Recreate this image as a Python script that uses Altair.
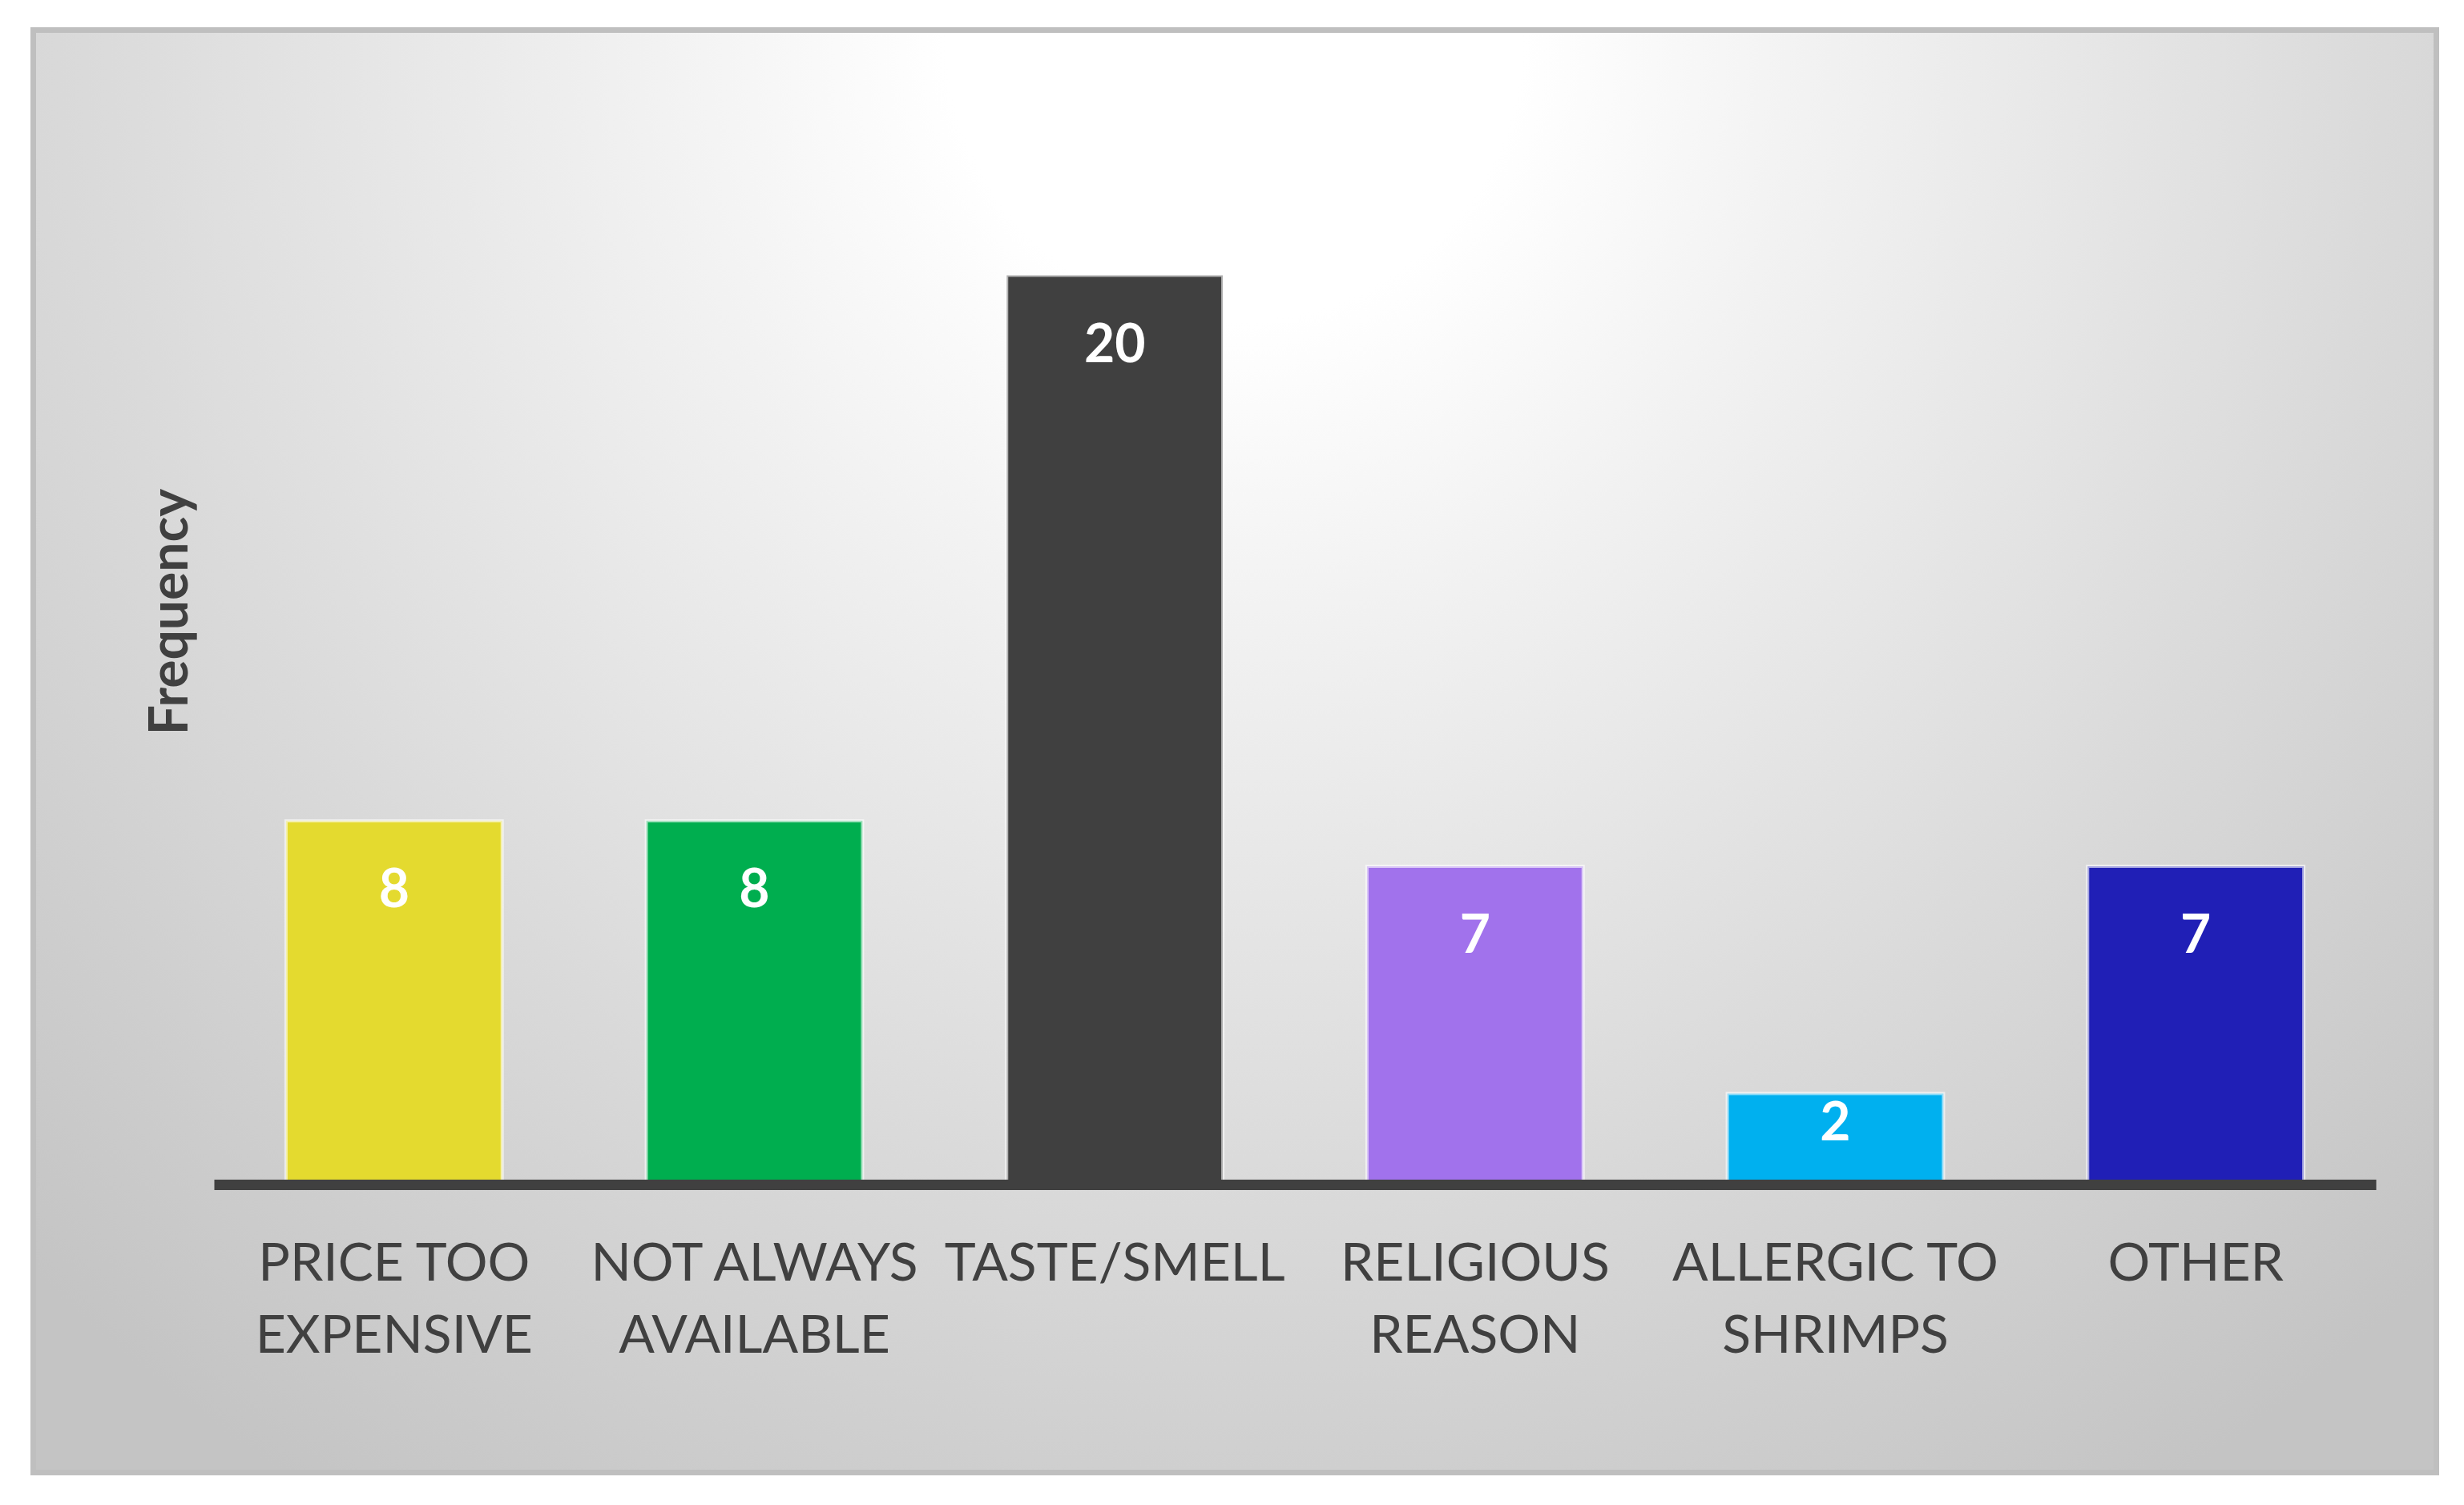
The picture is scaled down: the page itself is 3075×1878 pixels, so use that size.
import altair as alt
import pandas as pd

# ---- data ----
categories = ["PRICE TOO EXPENSIVE", "NOT ALWAYS AVAILABLE", "TASTE/SMELL",
              "RELIGIOUS REASON", "ALLERGIC TO SHRIMPS", "OTHER"]
frequencies = [8, 8, 20, 7, 2, 7]
bar_colors = ["#E4DA2F", "#00AE4F", "#404040", "#A172EC", "#00B0EF", "#201FB6"]
y_title = "Frequency"

df = pd.DataFrame({"category": categories, "frequency": frequencies, "color": bar_colors})
panel = pd.DataFrame({"k": [0]})

W, H = 2698, 1418
TEXT = "#404040"

# background radial gradient (centred on the top edge of the panel)
R2 = 0.6
grad_stops = [(0.0, "#ffffff"), (0.1, "#ffffff"), (0.2, "#f2f2f2"), (0.3, "#e6e6e6"),
              (0.4, "#dadada"), (0.5, "#cfcfcf"), (0.6, "#c4c4c4")]
bg_fill = alt.Gradient(
    gradient="radial",
    stops=[alt.GradientStop(color=c, offset=d / R2) for d, c in grad_stops],
    x1=0.5, y1=0.5, r1=0, x2=0.5, y2=0.5, r2=R2,
)

bg = alt.Chart(panel).mark_rect(fill=bg_fill).encode(
    x=alt.value(-222), x2=alt.value(2770), y=alt.value(-1815), y2=alt.value(1777))
cover = alt.Chart(panel).mark_rect(color="white").encode(
    x=alt.value(-300), x2=alt.value(2900), y=alt.value(-2000), y2=alt.value(-26))
frame = alt.Chart(panel).mark_rect(filled=False, stroke="#bfbfbf", strokeWidth=7).encode(
    x=alt.value(-225.5), x2=alt.value(2773.5), y=alt.value(-22.5), y2=alt.value(1777.5))

label_expr = ("indexof(datum.label, ' ') < 0 ? datum.label : "
              "[substring(datum.label, 0, lastindexof(datum.label, ' ')), "
              "substring(datum.label, lastindexof(datum.label, ' ') + 1)]")

x_enc = alt.X(
    "category:N", sort=categories,
    scale=alt.Scale(paddingInner=0.4, paddingOuter=0.2),
    axis=alt.Axis(title=None, labelExpr=label_expr, labelFont="Lato", labelFontSize=66,
                  labelColor=TEXT, labelLineHeight=90, labelBaseline="alphabetic",
                  labelPadding=119, labelAngle=0, labelLimit=2000, ticks=False, tickSize=0,
                  domainColor=TEXT, domainWidth=13, zindex=1),
)
y_enc = alt.Y(
    "frequency:Q", scale=alt.Scale(domain=[0, 25], nice=False),
    axis=alt.Axis(title=y_title, titleFont="Lato", titleFontSize=66, titleFontWeight="bold",
                  titleColor=TEXT, titleAngle=270, titleX=-34, titleY=703,
                  titleAlign="center", titleBaseline="alphabetic",
                  labels=False, ticks=False, domain=False, grid=False, zindex=1),
)

bars = alt.Chart(df).mark_bar(stroke="white", strokeOpacity=0.6, strokeWidth=4).encode(
    x=x_enc, y=y_enc, color=alt.Color("color:N", scale=None))

text_kw = dict(font="Lato", fontWeight="bold", fontSize=66, color="white", baseline="alphabetic")
text_enc = dict(x=alt.X("category:N", sort=categories), y=alt.Y("frequency:Q"), text="frequency:Q")

values_tall = alt.Chart(df).transform_filter("datum.frequency >= 4").mark_text(
    dy=108, **text_kw).encode(**text_enc)
values_short = alt.Chart(df).transform_filter("datum.frequency < 4").mark_text(
    dy=58, **text_kw).encode(**text_enc)

chart = alt.layer(bg, cover, frame, bars, values_tall, values_short).properties(
    width=W, height=H,
    padding={"left": 259, "top": 52, "right": 100, "bottom": 380},
    autosize="none",
    background="white",
).configure_view(stroke=None)

chart.save("out.html", embed_options={"renderer": "svg", "actions": False})
